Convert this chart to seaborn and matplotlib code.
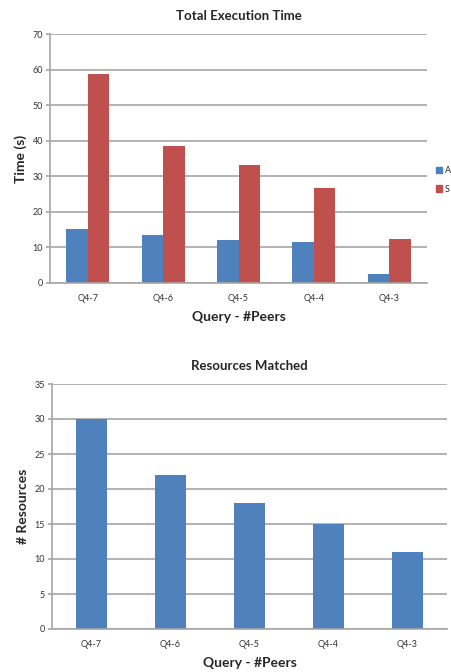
import matplotlib
matplotlib.use("Agg")
import matplotlib.pyplot as plt
import seaborn as sns
import pandas as pd

categories = ["Q4-7", "Q4-6", "Q4-5", "Q4-4", "Q4-3"]
series_names = ["A", "S"]
time_a = [15.3, 13.5, 12.0, 11.4, 2.4]
time_s = [58.8, 38.6, 33.3, 26.8, 12.5]
resources = [30, 22, 18, 15, 11]

blue = "#4F81BD"
red = "#C0504D"
grid_c = "#A6A6A6"

sns.set_theme(style="white")
plt.rcParams["font.family"] = ["Lato", "DejaVu Sans"]

df_time = pd.DataFrame({
    "Query": categories * 2,
    "Time": time_a + time_s,
    "Series": [series_names[0]] * len(categories) + [series_names[1]] * len(categories),
})
df_res = pd.DataFrame({"Query": categories, "Resources": resources})

fig = plt.figure(figsize=(4.52, 6.72), dpi=100)
ax1 = fig.add_axes([50/452, 1-283/672, 377/452, 249/672])
ax2 = fig.add_axes([52/452, 1-629/672, 395/452, 245/672])

sns.barplot(data=df_time, x="Query", y="Time", hue="Series", palette=[blue, red],
            width=0.57, saturation=1, ax=ax1, legend=False, linewidth=0)
sns.barplot(data=df_res, x="Query", y="Resources", color=blue, width=0.4,
            saturation=1, ax=ax2, linewidth=0)

def style(ax, ymax, step, title, ylabel):
    ax.set_ylim(0, ymax)
    ax.set_yticks(range(0, ymax + 1, step))
    ax.set_xlim(-0.5, len(categories) - 0.5)
    ax.set_axisbelow(True)
    ax.yaxis.grid(True, color=grid_c, linewidth=1.2)
    ax.xaxis.grid(False)
    for s in ["top", "right"]:
        ax.spines[s].set_visible(False)
    for s in ["left", "bottom"]:
        ax.spines[s].set_color(grid_c)
        ax.spines[s].set_linewidth(1.2)
    ax.tick_params(axis="y", which="major", length=3, color=grid_c, width=1.2,
                   labelsize=6.5, labelcolor="#333333", pad=2, left=True)
    ax.tick_params(axis="x", length=0, labelsize=6.5, labelcolor="#333333", pad=8)
    ax.set_title(title, fontsize=9.5, fontweight="bold", pad=10)
    ax.set_xlabel("Query - #Peers", fontsize=10, fontweight="bold", labelpad=6)
    ax.set_ylabel(ylabel, fontsize=10, fontweight="bold", labelpad=4)

style(ax1, 70, 10, "Total Execution Time", "Time (s)")
style(ax2, 35, 5, "Resources Matched", "# Resources")

handles = [plt.Rectangle((0, 0), 1, 1, color=blue), plt.Rectangle((0, 0), 1, 1, color=red)]
fig.legend(handles, series_names, loc="center left", bbox_to_anchor=(432/452, 1-180/672),
           frameon=False, fontsize=6.5, handlelength=0.7, handleheight=0.7,
           handletextpad=0.3, labelspacing=1.0, borderaxespad=0)

fig.savefig("out.png", dpi=100)
